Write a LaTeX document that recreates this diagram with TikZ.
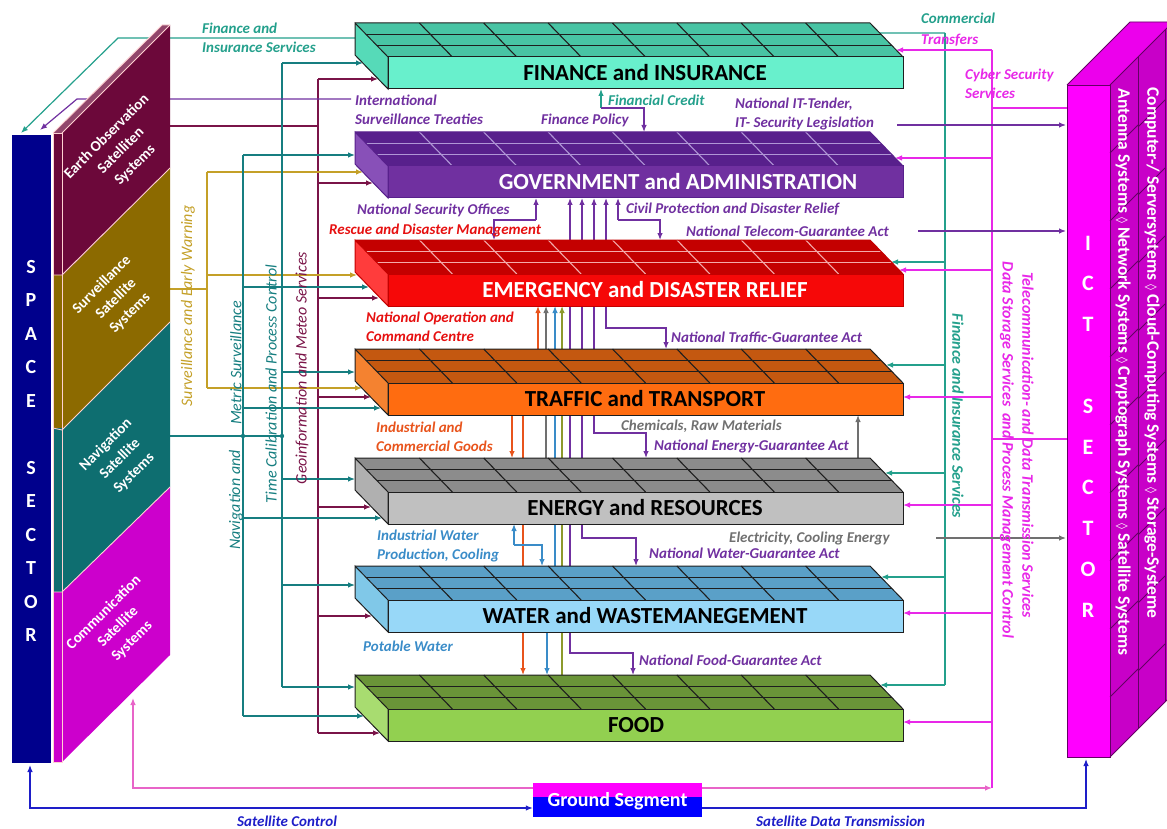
\documentclass[tikz,border=0pt]{standalone}
\usepackage{fontspec}
\setmainfont{Carlito}
\newfontfamily\symfont{DejaVu Sans}
\usetikzlibrary{arrows.meta}

% sector colours
\definecolor{navyC}{RGB}{0,0,140}
\definecolor{eoC}{RGB}{108,8,58}
\definecolor{svC}{RGB}{140,106,0}
\definecolor{nvC}{RGB}{14,110,112}
\definecolor{cmC}{RGB}{204,0,204}
\definecolor{ictC}{RGB}{255,0,255}
\definecolor{ictD}{RGB}{200,0,200}
\definecolor{ictT}{RGB}{236,0,236}
\definecolor{ictL}{RGB}{100,0,100}
% connector and label colours
\definecolor{purC}{RGB}{112,48,160}
\definecolor{tealC}{RGB}{22,126,128}
\definecolor{finC}{RGB}{36,160,140}
\definecolor{marC}{RGB}{122,20,72}
\definecolor{oliC}{RGB}{196,160,40}
\definecolor{magC}{RGB}{232,40,232}
\definecolor{pinkC}{RGB}{232,100,200}
\definecolor{bluC}{RGB}{30,30,200}
\definecolor{gsBlue}{RGB}{0,0,255}
\definecolor{orgC}{RGB}{232,84,28}
\definecolor{grayC}{RGB}{112,112,112}
\definecolor{wblC}{RGB}{58,140,200}
\definecolor{ogrC}{RGB}{140,154,44}
\definecolor{redC}{RGB}{230,16,16}
% block colours
\definecolor{finTop}{RGB}{72,196,164}
\definecolor{finFront}{RGB}{104,240,204}
\definecolor{finSide}{RGB}{86,218,184}
\definecolor{govTop}{RGB}{88,32,140}
\definecolor{govFront}{RGB}{112,48,160}
\definecolor{govSide}{RGB}{136,80,184}
\definecolor{govGrid}{RGB}{176,150,214}
\definecolor{emgTop}{RGB}{196,0,0}
\definecolor{emgFront}{RGB}{246,8,8}
\definecolor{emgSide}{RGB}{255,60,60}
\definecolor{emgGrid}{RGB}{244,170,170}
\definecolor{trfTop}{RGB}{196,88,16}
\definecolor{trfFront}{RGB}{255,108,16}
\definecolor{trfSide}{RGB}{244,130,48}
\definecolor{engTop}{RGB}{140,140,140}
\definecolor{engFront}{RGB}{192,192,192}
\definecolor{engSide}{RGB}{176,176,176}
\definecolor{watTop}{RGB}{90,160,200}
\definecolor{watFront}{RGB}{152,216,248}
\definecolor{watSide}{RGB}{128,200,232}
\definecolor{fodTop}{RGB}{106,148,56}
\definecolor{fodFront}{RGB}{146,208,80}
\definecolor{fodSide}{RGB}{168,220,112}
\definecolor{edgeK}{RGB}{30,30,30}

\newcommand\dia{{\symfont\fontsize{12}{12}\selectfont ◊}}

% one sector slab: #1 back edge y, #2 top, #3 front, #4 side, #5 grid, #6 edge
\newcommand\sectorblock[6]{%
  \fill[#2] (355,#1) -- (870,#1) -- (903,{#1+34}) -- (388,{#1+34}) -- cycle;
  \foreach \k in {1,...,7}{\draw[#5,line width=1.1pt] ({355+64.375*\k},#1) -- ({388+64.375*\k},{#1+34});}
  \draw[#5,line width=1.1pt] (366,{#1+11.33}) -- (881,{#1+11.33});
  \draw[#5,line width=1.1pt] (377,{#1+22.67}) -- (892,{#1+22.67});
  \draw[#6,line width=1pt,fill=#4] (355,#1) -- (388,{#1+34}) -- (388,{#1+66}) -- (355,{#1+32}) -- cycle;
  \draw[#6,line width=1pt,fill=#3] (388,{#1+34}) rectangle (903,{#1+66});
  \draw[#6,line width=1pt] (355,#1) -- (870,#1) -- (903,{#1+34});
}

\begin{document}
\begin{tikzpicture}[x=1pt,y=-1pt,
  conn/.style={line width=1.2pt},
  arr/.style={-{Latex[length=7pt,width=5.5pt]}},
  darr/.style={{Latex[length=7pt,width=5.5pt]}-{Latex[length=7pt,width=5.5pt]}},
  blk/.style={font=\fontsize{23}{26}\selectfont\bfseries, inner sep=0pt},
  lab/.style={font=\fontsize{15}{19.5}\selectfont\bfseries\itshape, inner sep=0pt, align=left, anchor=west},
  vlab/.style={font=\fontsize{16}{19}\selectfont\itshape, inner sep=0pt},
  rlab/.style={font=\fontsize{16}{19}\selectfont\bfseries\itshape, inner sep=0pt},
  sect/.style={font=\fontsize{20}{22}\selectfont\bfseries, text=white, inner sep=0pt},
  ptxt/.style={font=\fontsize{15}{20}\selectfont\bfseries, text=white, align=center, inner sep=0pt, rotate=45},
  coltxt/.style={font=\fontsize{17.5}{19}\selectfont\bfseries, text=white, inner sep=0pt, rotate=-90},
  gseg/.style={font=\fontsize{20}{22}\selectfont\bfseries, text=white, inner sep=0pt}]

\useasboundingbox (0,0) rectangle (1167,829);

% ---------------- left buses from the space segment ----------------
% Earth observation -> geoinformation and meteo services
\draw[conn,marC] (170,126) -- (318,126);
\draw[conn,marC] (318,79) -- (318,733);
\foreach \y/\x in {79/378, 183/373, 298/379, 397/371, 507/371, 616/372, 733/380}
  \draw[conn,marC,arr] (318,\y) -- (\x,\y);
% surveillance and early warning
\draw[conn,oliC] (170,289) -- (207,289);
\draw[conn,oliC] (207,172) -- (207,388);
\foreach \y/\x in {172/363, 275/357, 388/362}
  \draw[conn,oliC,arr] (207,\y) -- (\x,\y);
% navigation: metric surveillance and time calibration
\draw[conn,tealC] (170,436) -- (282,436);
\draw[conn,tealC] (243,155) -- (243,716);
\foreach \y/\x in {155/355, 287/369, 408/381, 518/382, 716/364}
  \draw[conn,tealC,arr] (243,\y) -- (\x,\y);
\draw[conn,tealC] (282,63) -- (282,687);
\foreach \y/\x in {63/363, 372/355, 479/355, 585/355, 687/355}
  \draw[conn,tealC,arr] (282,\y) -- (\x,\y);
\fill[tealC] (243,436) circle (2.2) (282,436) circle (2.2);
% treaties and finance back to the space sector
\draw[conn,purC,arr] (351,99) -- (77,99) -- (40,130);
\draw[conn,finC,arr] (945,33) -- (700,33) -- (700,38) -- (118,38) -- (21,133);

% ---------------- right buses ----------------
\draw[conn,finC] (945,33) -- (945,685);
\foreach \y/\x in {262/891, 365/886, 473/885, 577/881, 685/880}
  \draw[conn,finC,arr] (945,\y) -- (\x,\y);
\draw[conn,magC] (992,50) -- (992,788);
\foreach \y/\x in {50/896, 158/895, 270/899, 397/903, 505/903, 613/903, 722/903}
  \draw[conn,magC,arr] (992,\y) -- (\x,\y);
\draw[conn,magC] (1067,108) -- (992,108);
\draw[conn,magC] (1067,439) -- (992,439);
\draw[conn,purC,arr] (897,125) -- (1066,125);
\draw[conn,purC,arr] (918,231) -- (1066,231);
\draw[conn,grayC,arr] (936,538) -- (1066,538);

% ---------------- links between the sectors ----------------
\draw[conn,finC,arr] (601,108) -- (601,89);
\draw[conn,purC,arr] (601,108) -- (644,108) -- (644,132);
\draw[conn,purC,arr] (536,220) -- (536,198);
\draw[conn,purC,arr] (536,220) -- (494,220) -- (494,240);
\draw[conn,purC,arr] (618,220) -- (618,198);
\draw[conn,purC,arr] (618,220) -- (660,220) -- (660,240);
\draw[conn,purC,darr] (570,198) -- (570,653) -- (633,653) -- (633,675);
\draw[conn,purC,darr] (582,198) -- (582,538) -- (636,538) -- (636,566);
\draw[conn,purC,darr] (594,198) -- (594,433) -- (646,433) -- (646,458);
\draw[conn,purC,darr] (606,198) -- (606,328) -- (666,328) -- (666,349);
\draw[conn,orgC,arr] (538,349) -- (538,306);
\draw[conn,grayC,arr] (546,458) -- (546,306);
\draw[conn,wblC,arr] (555,566) -- (555,306);
\draw[conn,ogrC,arr] (562,675) -- (562,306);
\draw[conn,orgC,arr] (512,415) -- (512,458);
\draw[conn,orgC,arr] (523,415) -- (523,675);
\draw[conn,grayC,arr] (858,458) -- (858,415);
\draw[conn,wblC,arr] (514,545) -- (514,524);
\draw[conn,wblC,arr] (514,545) -- (542,545) -- (542,566);
\draw[conn,wblC,arr] (547,632) -- (547,675);

% ---------------- ground segment ----------------
\node[minimum width=169pt, minimum height=34pt, inner sep=0pt] (ground) at (617.5,800) {};
\fill[ictC] (ground.north west) rectangle (702,797);
\fill[gsBlue] (533,797) rectangle (ground.south east);
\node[gseg] (gtext) at (617.5,801) {Ground Segment};
\draw[conn,pinkC,arr] (ground.west |- 0,788) -- (133,788) -- (133,698);
\draw[conn,pinkC,arr] (ground.east |- 0,788) -- (992,788);
\draw[conn,bluC,darr] (30,765) -- (30,808) -- (ground.west |- 0,808);
\draw[conn,bluC,arr] (ground.east |- 0,808) -- (1086,808) -- (1086,759);

% ---------------- sector slabs ----------------
\sectorblock{23}{finTop}{finFront}{finSide}{edgeK}{edgeK}
\sectorblock{132}{govTop}{govFront}{govSide}{govGrid}{govTop}
\sectorblock{240}{emgTop}{emgFront}{emgSide}{emgGrid}{emgTop}
\sectorblock{349}{trfTop}{trfFront}{trfSide}{edgeK}{edgeK}
\sectorblock{458}{engTop}{engFront}{engSide}{edgeK}{edgeK}
\sectorblock{566}{watTop}{watFront}{watSide}{edgeK}{edgeK}
\sectorblock{675}{fodTop}{fodFront}{fodSide}{edgeK}{edgeK}
\node[blk,text=black] (fin) at (645,73) {FINANCE and INSURANCE};
\node[blk,text=white] (gov) at (678,182) {GOVERNMENT and ADMINISTRATION};
\node[blk,text=white] (emg) at (645,290) {EMERGENCY and DISASTER RELIEF};
\node[blk,text=black] (trf) at (645,399) {TRAFFIC and TRANSPORT};
\node[blk,text=black] (eng) at (645,508) {ENERGY and RESOURCES};
\node[blk,text=black] (wat) at (645,616) {WATER and WASTEMANEGEMENT};
\node[blk,text=black] (food) at (636,725) {FOOD};

% ---------------- space sector ----------------
\node[fill=navyC, minimum width=39pt, minimum height=628pt, inner sep=0pt] (space) at (31.5,449) {};
\foreach \c [count=\i from 0] in {S,P,A,C,E,,S,E,C,T,O,R}
  \node[sect] (ss\i) at (31,{267+33.5*\i}) {\c};
% satellite system panels: front strip, slanted face, top sliver
\fill[eoC] (53,133) rectangle (62,275);
\fill[svC] (53,275) rectangle (62,428);
\fill[nvC] (53,428) rectangle (62,592);
\fill[cmC] (53,592) rectangle (62,762);
\fill[eoC] (62,133) -- (170,25) -- (170,168) -- (62,276) -- cycle;
\fill[svC] (62,276) -- (170,168) -- (170,322) -- (62,430) -- cycle;
\fill[nvC] (62,430) -- (170,322) -- (170,487) -- (62,592) -- cycle;
\fill[cmC] (62,592) -- (170,487) -- (170,655) -- (62,762) -- cycle;
\fill[eoC!75!white] (53,133) -- (62,133) -- (170,25) -- (162,25) -- cycle;
\draw[pink!70!white, line width=0.9pt] (53,133) rectangle (62,762);
\draw[pink!70!white, line width=0.9pt] (62,133) -- (170,25);
\draw[pink!70!white, line width=0.9pt] (53,133) -- (162,25) -- (170,25);
\draw[pink!70!white, line width=0.9pt] (53,275) -- (62,275) -- (170,168);
\draw[pink!70!white, line width=0.9pt] (53,428) -- (62,430) -- (170,322);
\draw[pink!70!white, line width=0.9pt] (53,592) -- (62,592) -- (170,487);
\node[ptxt] (eotx) at (121,151) {Earth Observation\\Satelliten\\Systems};
\node[ptxt] (svtx) at (116,299) {Surveillance\\Satellite\\Systems};
\node[ptxt] (nvtx) at (120,459) {Navigation\\Satellite\\Systems};
\node[ptxt] (cmtx) at (118,627) {Communication\\Satellite\\Systems};

% ---------------- ICT sector ----------------
\fill[ictD] (1110,85) -- (1173,22) -- (1173,694) -- (1110,757) -- cycle;
\fill[ictT] (1067,85) -- (1110,85) -- (1173,22) -- (1130,22) -- cycle;
\node[fill=ictC, draw=ictL, line width=0.8pt, minimum width=43pt, minimum height=672pt, inner sep=0pt] (ict) at (1088.5,421) {};
\draw[ictL, line width=0.8pt] (1067,85) -- (1130,22) -- (1173,22);
\draw[ictL, line width=0.8pt] (1110,85) -- (1173,22);
\draw[ictL, line width=0.8pt] (1110,757) -- (1173,694);
\draw[ictL, line width=1pt] (1138,57) -- (1138,729);
\draw[ictL, line width=1pt] (1165,30) -- (1165,702);
\foreach \y in {153,221,289,357,425,493,561,629,697}
  \draw[ictL, line width=0.9pt] (1110,\y) -- (1138,{\y-28});
\foreach \y in {127,195,263,331,399,467,535,603,671}
  \draw[ictL, line width=0.9pt] (1138,\y) -- (1165,{\y-27});
\foreach \c [count=\i from 0] in {I,C,T,,S,E,C,T,O,R}
  \node[sect,font=\fontsize{22}{24}\selectfont\bfseries] (is\i) at (1088,{243+40.8*\i}) {\c};
\node[coltxt] (col1) at (1123,372) {Antenna Systems \dia{} Network Systems \dia{} Cryptograph Systems \dia{} Satellite Systems};
\node[coltxt] (col2) at (1152,353) {Computer-/ Serversystems \dia{} Cloud-Computing Systems \dia{} Storage-Systeme};

% ---------------- labels ----------------
\node[lab,text=purC] (ist) at (355,110) {International\\Surveillance Treaties};
\node[lab,text=finC] (fcr) at (608,100) {Financial Credit};
\node[lab,text=purC] (fpo) at (541,120) {Finance Policy};
\node[lab,text=purC] (itl) at (735,114) {National IT-Tender,\\IT- Security Legislation};
\node[lab,text=purC] (nso) at (357,210) {National Security Offices};
\node[lab,text=redC] (rdm) at (329,231) {Rescue and Disaster Management};
\node[lab,text=purC] (cpd) at (626,209) {Civil Protection and Disaster Relief};
\node[lab,text=purC] (ntg) at (686,231) {National Telecom-Guarantee Act};
\node[lab,text=redC] (noc) at (366,327) {National Operation and\\Command Centre};
\node[lab,text=purC] (ntr) at (671,337) {National Traffic-Guarantee Act};
\node[lab,text=orgC] (icg) at (376,437) {Industrial and\\Commercial Goods};
\node[lab,text=grayC] (crm) at (621,426) {Chemicals, Raw Materials};
\node[lab,text=purC] (neg) at (654,446) {National Energy-Guarantee Act};
\node[lab,text=wblC] (iwp) at (377,546) {Industrial Water\\Production, Cooling};
\node[lab,text=grayC] (ece) at (729,538) {Electricity, Cooling Energy};
\node[lab,text=purC] (nwg) at (649,553) {National Water-Guarantee Act};
\node[lab,text=wblC] (ptw) at (363,646) {Potable Water};
\node[lab,text=purC] (nfg) at (639,660) {National Food-Guarantee Act};
\node[lab,text=finC] (fis) at (202,38) {Finance and\\Insurance Services};
\node[lab,text=finC] (com) at (921,18) {Commercial};
\node[lab,text=magC] (trn) at (921,40) {Transfers};
\node[lab,text=magC] (cyb) at (965,84) {Cyber Security\\Services};
\node[lab,text=bluC] (sct) at (237,821) {Satellite Control};
\node[lab,text=bluC] (sdt) at (756,821) {Satellite Data Transmission};
% rotated bus labels
\node[vlab,text=oliC,rotate=90] (swl) at (188,306) {Surveillance and Early Warning};
\node[vlab,text=tealC,rotate=90] (nav1) at (236,500) {Navigation and};
\node[vlab,text=tealC,rotate=90] (nav2) at (236,363) {Metric Surveillance};
\node[vlab,text=tealC,rotate=90] (tcp) at (271,384) {Time Calibration and Process Control};
\node[vlab,text=marC,rotate=90] (gms) at (302,368) {Geoinformation and Meteo Services};
\node[rlab,text=finC,rotate=-90] (fisv) at (958,416) {Finance and Insurance Services};
\node[rlab,text=magC,rotate=-90] (tel) at (1028,445) {Telecommunication- and Data Transmission Services};
\node[rlab,text=magC,rotate=-90] (dss) at (1007,450) {Data Storage Services\ \ and Process Management Control};

\end{tikzpicture}
\end{document}
